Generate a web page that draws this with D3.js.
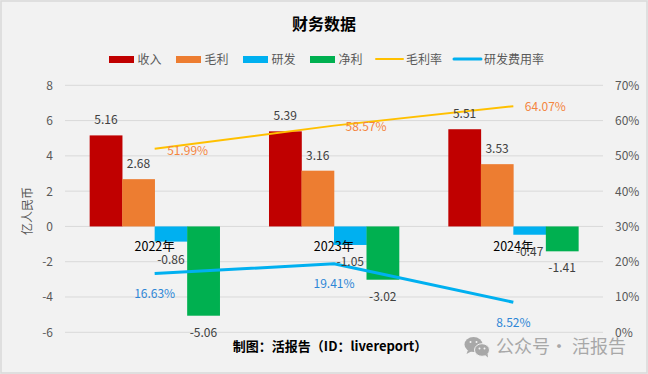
<!DOCTYPE html>
<html><head><meta charset="utf-8">
<script src="https://cdn.jsdelivr.net/npm/d3@7/dist/d3.min.js"></script>
<style>html,body{margin:0;padding:0;background:#f2f2f2}svg{display:block}text{font-family:"Noto Sans CJK SC","Noto Sans",sans-serif}</style>
</head><body><svg id="c" width="648" height="374"></svg>
<script>
const categories=["2022年","2023年","2024年"];
const barSeries=["收入","毛利","研发","净利"];
const revenue=[5.16,5.39,5.51];
const grossProfit=[2.68,3.16,3.53];
const rnd=[-0.86,-1.05,-0.47];
const netProfit=[-5.06,-3.02,-1.41];
const grossMargin=[51.99,58.57,64.07];
const rndRate=[16.63,19.41,8.52];
const leftTicks=[-6,-4,-2,0,2,4,6,8];
const rightTicks=[0,10,20,30,40,50,60,70];
const barColors=["#c00000","#ed7d31","#00b0f0","#00b050"];
const gold="#ffc000",blue="#00b0f0";

const svg=d3.select("#c");
svg.append("rect").attr("x",1).attr("y",1).attr("width",646).attr("height",372).attr("fill","#f2f2f2").attr("stroke","#d9d9d9").attr("stroke-width",1.5);
const L=65,R=603,T=85.3,B=332.3;
const x=d3.scaleBand().domain(categories).range([L,R]).paddingInner(0.275).paddingOuter(0.1375);
const x1=d3.scaleBand().domain(barSeries).range([0,x.bandwidth()]);
const yL=d3.scaleLinear().domain([-6,8]).range([B,T]);
const yR=d3.scaleLinear().domain([0,70]).range([B,T]);
const mid=c=>x(c)+x.bandwidth()/2;
const tc="#595959";

svg.append("g").selectAll("line").data(leftTicks).join("line")
 .attr("x1",L).attr("x2",R).attr("y1",d=>yL(d)).attr("y2",d=>yL(d)).attr("stroke","#d9d9d9").attr("stroke-width",1);

const axL=svg.append("g").attr("transform",`translate(${L},0)`).call(d3.axisLeft(yL).tickValues(leftTicks).tickSize(0).tickPadding(12).tickFormat(d=>d));
const axR=svg.append("g").attr("transform",`translate(${R},0)`).call(d3.axisRight(yR).tickValues(rightTicks).tickSize(0).tickPadding(12).tickFormat(d=>d+"%"));
[axL,axR].forEach(a=>{a.select(".domain").remove();a.selectAll("text").attr("fill",tc).attr("font-size",12).attr("font-family",'"Noto Sans CJK SC","Noto Sans",sans-serif');});

const series=[revenue,grossProfit,rnd,netProfit];
series.forEach((vals,i)=>{
 svg.append("g").selectAll("rect").data(vals).join("rect")
  .attr("x",(d,j)=>x(categories[j])+x1(barSeries[i]))
  .attr("width",x1.bandwidth()+0.3)
  .attr("y",d=>Math.min(yL(d),yL(0)))
  .attr("height",d=>Math.abs(yL(d)-yL(0)))
  .attr("fill",barColors[i]);
});
svg.append("g").selectAll("text").data(categories).join("text")
 .attr("x",c=>mid(c)).attr("y",yL(0)+25).attr("text-anchor","middle").attr("font-size",12.5).attr("fill","#000").text(d=>d);

const lg=d3.line().x((d,i)=>mid(categories[i])).y(d=>yR(d));
svg.append("path").datum(grossMargin).attr("d",lg).attr("fill","none").attr("stroke",gold).attr("stroke-width",2);
svg.append("path").datum(rndRate).attr("d",lg).attr("fill","none").attr("stroke",blue).attr("stroke-width",3).attr("stroke-linejoin","round");

function lab(vals,i,fn){
 svg.append("g").selectAll("text").data(vals).join("text")
  .attr("x",(d,j)=>x(categories[j])+x1(barSeries[i])+x1.bandwidth()/2)
  .attr("y",(d,j)=>fn(d,j)).attr("text-anchor","middle").attr("font-size",12).attr("fill","#404040").text(d=>d.toFixed(2));
}
lab(revenue,0,(d,j)=>yL(d)-11);
lab(grossProfit,1,(d,j)=>yL(d)-11);
lab(rnd,2,(d,j)=>yL(d)+[22,21,21][j]);
lab(netProfit,3,(d,j)=>yL(d)+21);
function pct(vals,col,dx,dy){
 svg.append("g").selectAll("text").data(vals).join("text")
  .attr("x",(d,j)=>mid(categories[j])+dx[j]).attr("y",(d,j)=>yR(d)+dy[j]).attr("text-anchor","middle")
  .attr("font-size",12).attr("fill",col).text(d=>d.toFixed(2)+"%");
}
pct(grossMargin,"#f4853f",[33,32,32],[6,5,5]);
pct(rndRate,"#2e86d6",[0,0,0],[24,24,25]);

svg.append("text").attr("transform","translate(32,211) rotate(-90)").attr("text-anchor","middle").attr("font-size",12).attr("fill",tc).text("亿人民币");
svg.append("text").attr("x",324).attr("y",30).attr("text-anchor","middle").attr("font-size",16).attr("font-weight",700).attr("fill","#000").text("财务数据");
svg.append("text").attr("x",330).attr("y",351).attr("text-anchor","middle").attr("font-size",13).attr("font-weight",700).attr("fill","#000").text("制图：活报告（ID：livereport）");

const legendBars=[[109,"收入"],[176,"毛利"],[243,"研发"],[310,"净利"]];
legendBars.forEach(([lx,t],i)=>{
 svg.append("rect").attr("x",lx).attr("y",56).attr("width",25).attr("height",7).attr("fill",barColors[i]);
 svg.append("text").attr("x",lx+28.5).attr("y",64).attr("font-size",12).attr("fill",tc).text(t);
});
[[376,"毛利率",gold,2],[454,"研发费用率",blue,3]].forEach(([lx,t,c,w])=>{
 svg.append("line").attr("x1",lx).attr("x2",lx+27).attr("y1",59).attr("y2",59).attr("stroke",c).attr("stroke-width",w).attr("stroke-linecap","round");
 svg.append("text").attr("x",lx+30).attr("y",64).attr("font-size",12).attr("fill",tc).text(t);
});

const wm=svg.append("g"),wc="#a8a8a8",bg="#f2f2f2";
wm.append("ellipse").attr("cx",473.5).attr("cy",344.5).attr("rx",9).attr("ry",7.5).attr("fill",wc);
wm.append("path").attr("d","M468 350 L466.5 354 L472 351 Z").attr("fill",wc);
wm.append("ellipse").attr("cx",482).attr("cy",350).attr("rx",7.5).attr("ry",6.3).attr("fill",wc).attr("stroke",bg).attr("stroke-width",1);
wm.append("path").attr("d","M485 355 L488 357.5 L487.5 353.5 Z").attr("fill",wc);
[[470.5,342],[476.5,342],[479.5,348.5],[484.5,348.5]].forEach(([a,b])=>wm.append("circle").attr("cx",a).attr("cy",b).attr("r",1).attr("fill",bg));
wm.append("text").attr("x",496).attr("y",353).attr("font-size",18).attr("fill",wc).text("公众号");
wm.append("text").attr("x",559).attr("y",353).attr("text-anchor","middle").attr("font-size",18).attr("fill",wc).text("·");
wm.append("text").attr("x",572).attr("y",353).attr("font-size",18).attr("fill",wc).text("活报告");
</script></body></html>
